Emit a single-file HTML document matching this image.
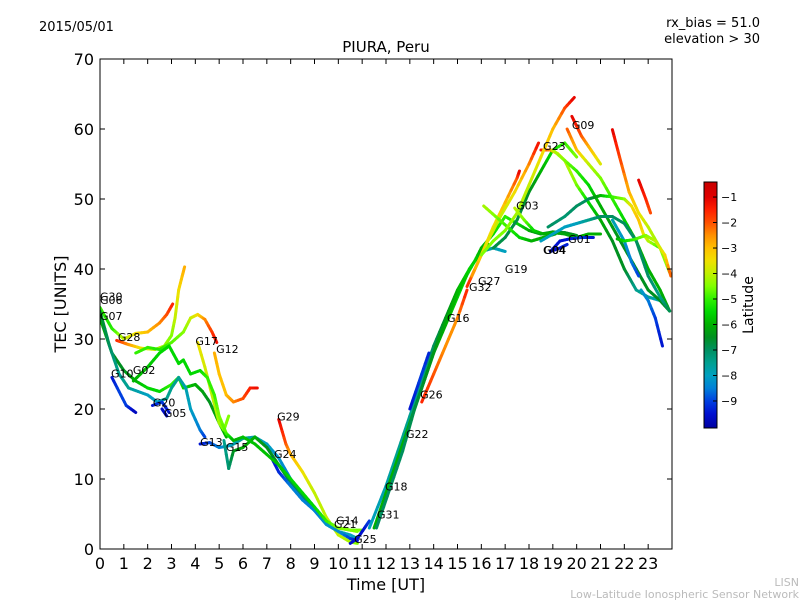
<!DOCTYPE html>
<html><head><meta charset="utf-8"><style>
body{margin:0;background:#fff;}
svg{display:block;font-family:"DejaVu Sans","Liberation Sans",sans-serif;}
</style></head><body>
<svg id="chart" width="800" height="600" viewBox="0 0 800 600" xmlns="http://www.w3.org/2000/svg">
<rect width="800" height="600" fill="#fff"/>
<text x="39" y="31" font-size="13">2015/05/01</text>
<text x="760" y="27" font-size="13" text-anchor="end">rx_bias = 51.0</text>
<text x="760" y="43" font-size="13" text-anchor="end">elevation &gt; 30</text>
<text x="386" y="52" font-size="15" text-anchor="middle">PIURA, Peru</text>
<defs><linearGradient id="jet" x1="0" y1="1" x2="0" y2="0"></linearGradient></defs>
<g id="plot"></g>
<rect x="100" y="59" width="572" height="490" fill="none" stroke="#000" stroke-width="1"/>
<g id="axes"></g>
<text x="386" y="590" font-size="16" text-anchor="middle">Time [UT]</text>
<text transform="translate(66,304) rotate(-90)" font-size="16" text-anchor="middle">TEC [UNITS]</text>
<g id="cbar"></g>
<text transform="translate(753,305) rotate(-90)" font-size="14" text-anchor="middle">Latitude</text>
<text x="799" y="586" font-size="11" fill="#bbb" text-anchor="end">LISN</text>
<text x="799" y="598" font-size="11" fill="#bbb" text-anchor="end">Low-Latitude Ionospheric Sensor Network</text>
</svg>
<script>
const xTicks=[0,1,2,3,4,5,6,7,8,9,10,11,12,13,14,15,16,17,18,19,20,21,22,23];
const yTicks=[0,10,20,30,40,50,60,70];
const cbTicks=[-1,-2,-3,-4,-5,-6,-7,-8,-9];
const satNames=["G30","G28","G07","G02","G10","G20","G05","G17","G12","G13","G15","G29","G24","G14","G21","G25","G31","G18","G22","G26","G16","G32","G27","G19","G03","G23","G09","G04","G01","G06","X1","X2","X3","X4","X5","X6","X7","X8","X9","X10"];
const tTimes=[
[0,0.5,1,1.5,2,2.5,2.8,3.05],
[0.7,1.2,1.7,2.3,2.7,3.0,3.15,3.3,3.45,3.55],
[0,0.5,1,1.5,2,2.5,3,3.3,3.5,4,4.3,4.6,5,5.3],
[0,0.4,0.8,1.2,1.6,2,2.4,2.8,3,3.3,3.6,3.8,4.2,4.4],
[0.5,0.8,1.1,1.5],
[2.2,2.6,2.9],
[2.6,2.8],
[4.1,4.4,4.7,5,5.2,5.4],
[4.8,5,5.3,5.6,6,6.3,6.6],
[4.2,4.6,5,5.5,6,6.5,7,7.5,8,8.5,9,9.5,10,10.5,10.8],
[5.2,5.4,5.6,6,6.5,7,7.5,8,8.5,9,9.5,10,10.5,11],
[7.5,7.8,8,8.5,9,9.5,10,10.5,10.8],
[7.2,7.5,8,8.5,9,9.5,10,10.5,10.8],
[1.5,2,2.5,3,3.5,3.8,4.1,4.4,4.7,4.9],
[1.4,2,2.5,2.9,3.3,3.5,3.8,4.2,4.5,4.8,5,5.3,5.6,6,6.5,7,7.5,8,8.5,9,9.5,10,10.5,10.8],
[10.5,10.8,11.1,11.3],
[11.3,12,12.5,13,13.5,14,14.5,15,15.5,16,16.5,17],
[11.5,12,12.5,13,13.5,14,14.5,15,15.5,16,16.3],
[11.6,12.2,12.7,13.2,13.7,14.2,14.7,15.2,15.7,16,16.5,17,17.5,18,18.5,19,19.5,20],
[13,13.5,13.8],
[13.5,14,14.5,15,15.4],
[15.4,16,16.5,17,17.5,17.6],
[15.6,16.2,16.8,17.4,18,18.4],
[16.5,17,17.5,18,18.5,19,19.5,20],
[17.4,17.8,18.2,18.6,19,19.5,20,20.5,21],
[16.1,16.6,17.1,17.6,18.1,18.6,19.1],
[18.5,18.9,19.2,19.5,20,20.5,21,21.5,22,22.5,23,23.5,23.9],
[16,16.5,17,17.5,18,18.5,19,19.5,19.9],
[19.6,20,20.5,21,21.5,22,22.5,23,23.5,23.9],
[19.8,20.2,20.6,21],
[18.9,19.3,19.7,20.2,20.7],
[18.9,19.3,19.6],
[21.5,21.8,22.2,22.6,23,23.5,23.9],
[22.6,22.9,23.1],
[19,19.5,20,20.5,21,21.5,22,22.5,23,23.5,23.9],
[18.8,19.5,20,20.5,21,21.5,22,22.3,22.6,22.8,23,23.5],
[18.5,19,19.5,20,20.5,21,21.5,22,22.5,23,23.5,23.9],
[21.5,22,22.3,22.6],
[22.7,23,23.3,23.6],
[21.7,22,22.4,22.9,23.3,23.7,23.95]
];
const tTec=[
[34.5,31.5,30,30.8,31,32.3,33.5,35],
[29.8,29.2,28.7,28.5,29,30.5,33,37,39,40.3],
[33,28,25.5,24,23,22.5,23.5,24.5,23,23.5,22.5,21,18,16],
[34,29,25,23,22.5,22,21,21.5,23,24.5,23,20,17,16],
[24.5,22.5,20.5,19.5],
[20.5,21,19.5],
[20,19],
[29.5,26,22,18,17,19],
[28,25,22,21,21.5,23,23],
[15,15.2,14.5,14.8,15.8,16,15,13,10,7.5,5.5,3.5,2.5,2,1.5],
[15.5,11.5,14,14.5,16,14.5,12,9.5,7.5,5.5,3.8,3,2.7,2.7],
[18.5,15,13.5,11,8,4.5,2,1,0.8],
[13,11,9,7,5.5,3.5,2.5,1.5,1.2],
[28,28.8,28.5,29.5,31,33,33.5,32.8,31,29.5],
[24,26,28,29,26.5,27,25,25.5,24.5,22,19,16.5,15.5,16,15,13.5,12,10,8,6,4,3,2.7,2.5],
[0.8,1.5,3,4],
[3,9,14,19,24,29,33,37,40,42.5,43,42.5],
[3,8,13,18,23,28,32,36,40,42.5,43.5],
[3,9,14,20,25,30,34,38,41,43,45,47.5,46.5,45.5,45,45.3,45.2,44.8],
[20,25,28],
[21,25,29,33,37],
[37.5,42,46,49.5,53,54],
[39,43.5,47.5,51,55,58],
[43,44.5,47,51,54,57,58,56],
[48.7,47,45.5,45,45.2,45,44.5,45,45],
[49,47.5,46,44.5,44,44.5,45],
[57,57,56.5,55.5,52,49.5,47,44,40,37,36,35.5,34],
[42,44,45.5,48,52,56,60,63,64.5],
[60,57,55,53,50,47,44,40,37,34],
[61.8,59,57,55],
[42.5,44,44.3,44.5,44.5],
[42.5,43,43.5],
[59.9,56,51,48,46,43,39.5],
[52.7,50,48],
[57,55.5,54,52,49,46,43,40,37,35.5,34],
[46,47.5,49,50,50.5,50.3,50,49,47,45,44,43],
[44,45,46,46.5,47,47.5,47.5,46.5,44,39,36,34],
[47,44,41,39],
[37,35.5,33,29],
[44.3,44,44.2,44.8,44,42,39]
];
const tLat=[
[-5,-5.2,-4,-3.5,-3,-2.5,-2,-1.5],
[-1.5,-2.5,-3.5,-4,-4.3,-4.5,-4,-3.5,-3,-2.8],
[-6,-6.5,-6.5,-6,-5.5,-5.5,-5,-5,-5.5,-6,-6.2,-6.5,-6,-6],
[-6.5,-7,-7.5,-7.5,-7.8,-8,-8,-7.5,-7.5,-7.5,-7.8,-8,-8.5,-9],
[-9.5,-9,-9,-9.8],
[-9.5,-9,-9.5],
[-9.6,-9.6],
[-3.5,-3.8,-4,-4.2,-4.5,-4.5],
[-2.8,-3,-3,-2.5,-2,-1.5,-1.2],
[-9.5,-9,-8.5,-8,-7.5,-7.8,-8,-8.2,-8.5,-8.5,-8.5,-8.2,-8,-8,-8],
[-7.5,-7.2,-6.5,-6,-6,-6.5,-6.5,-6.8,-7,-7,-7,-6.8,-5,-4.5],
[-1,-2,-2.8,-3.5,-4,-4,-4,-4.2,-4.5],
[-9.5,-9.3,-8.5,-8.5,-8.5,-8.2,-8.2,-9,-9.5],
[-5,-5,-5.2,-4.8,-4.5,-4,-3.5,-2.5,-1.8,-1.2],
[-6,-5.8,-5.5,-5.5,-5.5,-5.5,-5.5,-5.5,-5,-5,-4.5,-4.8,-6,-5.8,-5.8,-5.8,-5.8,-5.5,-5.5,-5.5,-5,-4.5,-4.5,-4.5],
[-9.5,-9.5,-9.5,-9],
[-8,-7.8,-7.5,-7.5,-7.5,-7,-6.5,-6,-5.5,-7,-7.8,-8],
[-6,-6,-6,-6,-6,-6,-6,-5.5,-5.5,-6,-6],
[-7,-7,-7,-6.8,-6.5,-6.3,-6,-5.8,-5.5,-6,-5.5,-5,-5.5,-6,-6.5,-6.5,-6.5,-6.5],
[-9.5,-9,-9.3],
[-1.5,-2,-2.5,-2.5,-1.5],
[-1.5,-3,-3.5,-3,-2,-1],
[-2.5,-3.5,-4,-3.5,-2.5,-1.2],
[-6.8,-6.8,-6.8,-6.5,-6,-5.5,-5,-4.5],
[-4,-4.5,-5.5,-6,-6,-6.2,-6,-6,-6],
[-4.2,-4.5,-5,-5.5,-6,-6,-6.2],
[-1.3,-2.5,-3.5,-4,-4.5,-5.5,-6,-6.5,-6.5,-7.5,-7.5,-8,-7.5],
[-4.5,-4.5,-4.5,-4.2,-4,-3.5,-3,-2,-1],
[-2,-3,-4,-4.5,-5,-5.5,-6,-6,-6,-6.2],
[-1,-2,-3,-3.8],
[-9.5,-9.5,-9.5,-9,-9.5],
[-9.8,-9.5,-9.3],
[-1,-1.8,-2.8,-3.5,-4,-4.3,-4.5],
[-1,-1.5,-2],
[-4,-4.5,-5,-5.5,-6,-6.3,-6.5,-6.5,-6.5,-6.5,-6.5],
[-7,-7.2,-7,-7,-6,-5,-4.5,-3.5,-3,-3.5,-4,-5],
[-8,-8,-8,-8,-7.5,-7,-7,-7,-7,-7,-7.5,-6.8],
[-7.8,-8.2,-8.5,-9],
[-8,-8.5,-9,-9.5],
[-6,-5.5,-5,-4.5,-4,-3.5,-2]
];
const labelText=["G30","G06","G07","G28","G10","G02","G20","G05","G17","G12","G13","G15","G29","G24","G14","G21","G25","G31","G18","G22","G26","G16","G32","G27","G19","G03","G23","G09","G04","G04","G01"];
const labelT=[0,0,0,0.75,0.46,1.38,2.22,2.68,4.0,4.87,4.2,5.28,7.43,7.3,9.9,9.82,10.66,11.62,11.96,12.84,13.43,14.56,15.48,15.86,16.99,17.46,18.59,19.8,18.59,18.62,19.64];
const labelV=[36.1,35.6,33.3,30.3,25.1,25.6,20.9,19.4,29.7,28.6,15.3,14.6,18.9,13.6,4.1,3.6,1.4,4.9,8.9,16.4,22.1,33.0,37.4,38.3,40.0,49.1,57.6,60.6,42.7,42.7,44.3];

const NS="http://www.w3.org/2000/svg";
const X0=100,X1=672,Y0=549,Y1=59;
function xs(t){return X0+t*(X1-X0)/24;}
function ys(v){return Y0-v*(Y0-Y1)/70;}
const LMIN=-10.06,LMAX=-0.41;
const cmapLat=[-10.06,-9.5,-9,-8.5,-8,-7.5,-7,-6.5,-6,-5.5,-5,-4.5,-4,-3.5,-3,-2.5,-2,-1.5,-1,-0.41];
const cmapCol=[[0,0,160],[0,16,208],[0,64,224],[0,128,216],[0,160,192],[0,160,144],[0,144,96],[0,144,32],[0,176,0],[0,216,0],[48,240,0],[128,255,0],[192,240,0],[240,224,0],[255,192,0],[255,144,0],[255,80,0],[255,32,0],[224,0,0],[200,0,0]];
function colAt(lat){
  lat=Math.max(LMIN,Math.min(LMAX,lat));
  for(let i=0;i<cmapLat.length-1;i++){
    if(lat<=cmapLat[i+1]){
      const f=(lat-cmapLat[i])/(cmapLat[i+1]-cmapLat[i]);
      const c=cmapCol[i].map((v,k)=>Math.round(v+(cmapCol[i+1][k]-v)*f));
      return `rgb(${c[0]},${c[1]},${c[2]})`;
    }
  }
  return 'rgb(200,0,0)';
}
function mk(tag,attrs,parent){const e=document.createElementNS(NS,tag);for(const k in attrs)e.setAttribute(k,attrs[k]);parent.appendChild(e);return e;}
const grad=document.getElementById('jet');
cmapLat.forEach((l,i)=>{mk('stop',{offset:(l-LMIN)/(LMAX-LMIN),'stop-color':`rgb(${cmapCol[i].join(',')})`},grad);});
const plot=document.getElementById('plot');
const clip=mk('clipPath',{id:'pc'},plot);mk('rect',{x:X0,y:Y1,width:X1-X0,height:Y0-Y1},clip);
const lines=mk('g',{'clip-path':'url(#pc)'},plot);
tTimes.forEach((ts,i)=>{
  const g=mk('g',{},lines);
  
  
  for(let j=0;j<ts.length-1;j++){
    const n=4;
    for(let k=0;k<n;k++){
      const a=k/n,b=(k+1)/n;
      const t1=ts[j]+(ts[j+1]-ts[j])*a,t2=ts[j]+(ts[j+1]-ts[j])*b;
      const v1=tTec[i][j]+(tTec[i][j+1]-tTec[i][j])*a,v2=tTec[i][j]+(tTec[i][j+1]-tTec[i][j])*b;
      const l=tLat[i][j]+(tLat[i][j+1]-tLat[i][j])*(a+b)/2;
      const s=mk('line',{x1:xs(t1),y1:ys(v1),x2:xs(t2),y2:ys(v2),stroke:colAt(l),'stroke-width':3,'stroke-linecap':'round'},g);
      
      
    }
  }
});
labelText.forEach((s,i)=>{
  const e=mk('text',{x:xs(labelT[i]),y:ys(labelV[i])+4,'font-size':11},plot);
  
  
  e.textContent=s;
});
const axes=document.getElementById('axes');
xTicks.forEach(t=>{
  const x=xs(t);
  const a=mk('line',{x1:x,y1:Y0,x2:x,y2:Y0-5,stroke:'#000'},axes);
  
  
  mk('line',{x1:x,y1:Y1,x2:x,y2:Y1+5,stroke:'#000'},axes);
  const e=mk('text',{x:x,y:Y0+20,'font-size':16,'text-anchor':'middle'},axes);
  
  
  e.textContent=t;
});
yTicks.forEach(v=>{
  const y=ys(v);
  const a=mk('line',{x1:X0,y1:y,x2:X0+5,y2:y,stroke:'#000'},axes);
  
  
  mk('line',{x1:X1,y1:y,x2:X1-5,y2:y,stroke:'#000'},axes);
  const e=mk('text',{x:X0-6,y:y+6,'font-size':16,'text-anchor':'end'},axes);
  
  
  e.textContent=v;
});
const cb=document.getElementById('cbar');
const CT=182,CB=428,CX=704,CW=13;
function cy(l){return CB-(l-LMIN)/(LMAX-LMIN)*(CB-CT);}
const cr=mk('rect',{x:CX,y:CT,width:CW,height:CB-CT,fill:'url(#jet)',stroke:'#000','stroke-width':1},cb);


cbTicks.forEach(l=>{
  const y=cy(l);
  mk('line',{x1:CX+CW-4,y1:y,x2:CX+CW,y2:y,stroke:'#000'},cb);
  const e=mk('text',{x:CX+CW+4,y:y+4,'font-size':11},cb);
  
  
  e.textContent='\u2212'+Math.abs(l);
});
</script>
</body></html>
